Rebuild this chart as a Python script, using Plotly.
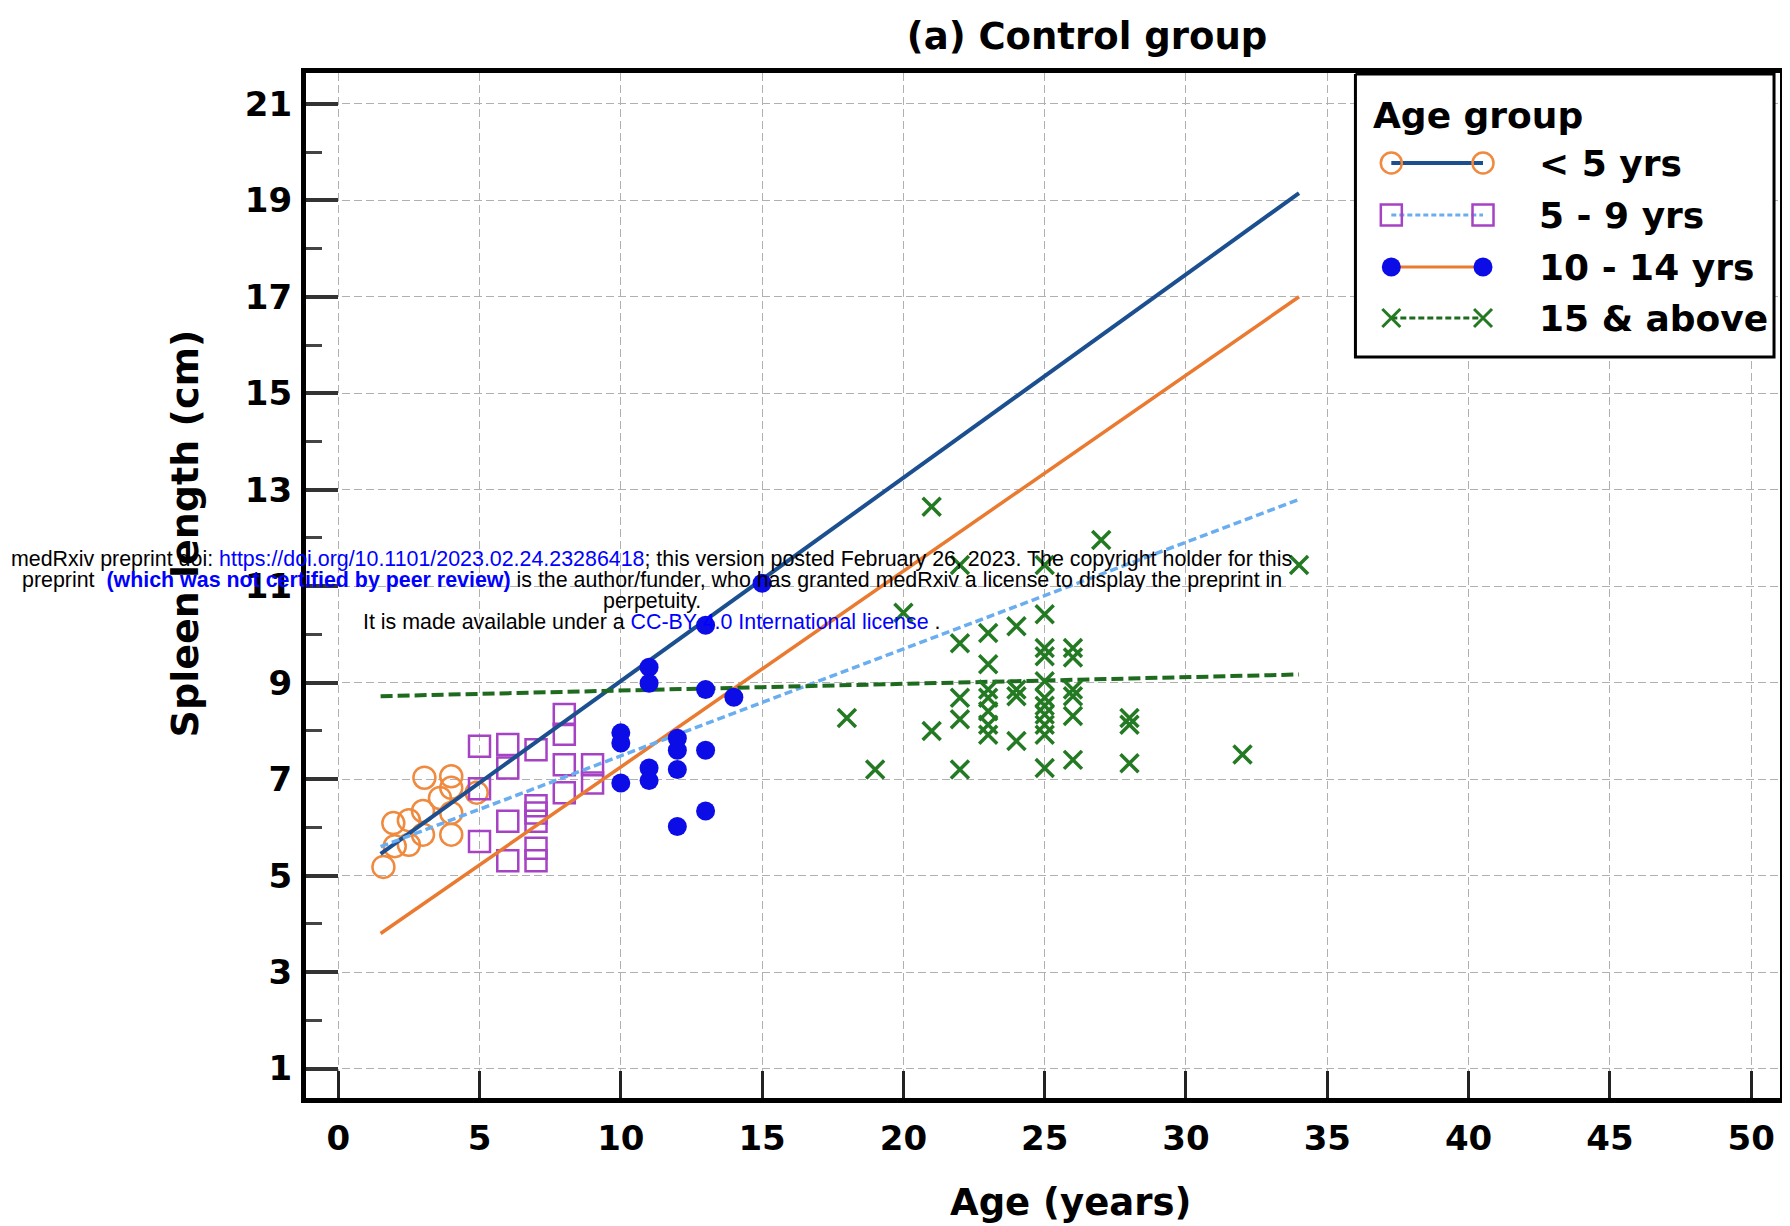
import plotly.graph_objects as go

# ---------------- data ----------------
lt5_age = [1.6, 2.0, 1.95, 2.5, 2.5, 3.0, 3.0, 3.05, 3.6, 4.0, 4.0, 4.0, 4.0, 4.9]
lt5_len = [5.18, 5.61, 6.09, 6.15, 5.64, 5.85, 6.34, 7.03, 6.61, 7.06, 6.82, 6.3, 5.85, 6.72]

g5_9_age = [5, 5, 5, 6, 6, 6, 6, 7, 7, 7, 7, 7, 7, 8, 8, 8, 8, 9, 9]
g5_9_len = [7.68, 6.8, 5.71, 7.72, 7.23, 6.13, 5.31, 7.61, 6.45, 6.3, 6.13, 5.57, 5.31,
            8.34, 7.93, 7.3, 6.72, 7.3, 6.92]

g10_14_age = [10, 10, 10, 11, 11, 11, 11, 12, 12, 12, 12, 13, 13, 13, 13, 14, 15]
g10_14_len = [7.96, 7.75, 6.92, 9.32, 8.99, 7.23, 6.97, 7.85, 7.6, 7.2, 6.02,
              10.19, 8.86, 7.6, 6.34, 8.7, 11.06]

g15_age = [18, 19, 20, 21, 21, 22, 22, 22, 22, 22, 23, 23, 23, 23, 23, 23, 23,
           24, 24, 24, 24, 25, 25, 25, 25, 25, 25, 25, 25, 25, 25, 25,
           26, 26, 26, 26, 26, 26, 27, 28, 28, 28, 32, 34]
g15_len = [8.27, 7.2, 10.45, 12.65, 8.0, 11.44, 9.82, 8.69, 8.24, 7.2, 10.03, 9.38, 8.86,
           8.69, 8.41, 8.13, 7.92, 10.17, 8.86, 8.72, 7.79, 11.44, 10.42, 9.72, 9.55,
           9.03, 8.69, 8.52, 8.34, 8.13, 7.92, 7.23, 9.72, 9.52, 8.86, 8.72, 8.31, 7.4,
           11.96, 8.27, 8.13, 7.33, 7.51, 11.44]

# fitted regression lines (end points)
fit_age = [1.5, 34.0]
fit_lt5 = [5.45, 19.15]
fit_5_9 = [5.6, 12.8]
fit_10_14 = [3.8, 17.0]
fit_15 = [8.72, 9.17]

group_names = ["< 5 yrs", "5 - 9 yrs", "10 - 14 yrs", "15 & above"]
x_ticks = list(range(0, 51, 5))
y_ticks = list(range(1, 22, 2))

# ---------------- styles ----------------
C_ORANGE = "#ef8a3e"
C_NAVY = "#1b4f8f"
C_PURPLE = "#a642c4"
C_LBLUE = "#6aaef0"
C_BLUE = "#0c0ce6"
C_ORLINE = "#ea7a30"
C_GREEN = "#237a23"
C_DGREEN = "#1e6a1e"
BOLD = "DejaVu Sans"
REG = "Liberation Sans, Arial, sans-serif"

# page body has an 8px margin: figure is sized/offset to compensate
OFF = 8
FIG_W, FIG_H = 1790 - OFF, 1226 - OFF
PLOT_L, PLOT_R, PLOT_T, PLOT_B = 306, 1785, 73, 1098   # plot area in window pixels


def px_to_paper(X, Y):
    return (X - PLOT_L) / (PLOT_R - PLOT_L), (PLOT_B - Y) / (PLOT_B - PLOT_T)


fig = go.Figure()

# data points
fig.add_trace(go.Scatter(x=lt5_age, y=lt5_len, mode="markers", name=group_names[0],
                         marker=dict(symbol="circle-open", size=22, color=C_ORANGE,
                                     line=dict(width=2.5, color=C_ORANGE))))
fig.add_trace(go.Scatter(x=g5_9_age, y=g5_9_len, mode="markers", name=group_names[1],
                         marker=dict(symbol="square-open", size=21, color=C_PURPLE,
                                     line=dict(width=2.5, color=C_PURPLE))))
# regression lines
fig.add_trace(go.Scatter(x=fit_age, y=fit_lt5, mode="lines", line=dict(color=C_NAVY, width=4)))
fig.add_trace(go.Scatter(x=fit_age, y=fit_10_14, mode="lines", line=dict(color=C_ORLINE, width=3.5)))
fig.add_trace(go.Scatter(x=fit_age, y=fit_5_9, mode="lines",
                         line=dict(color=C_LBLUE, width=3.5, dash="8px,4px")))
fig.add_trace(go.Scatter(x=fit_age, y=fit_15, mode="lines",
                         line=dict(color=C_DGREEN, width=4, dash="12px,5px")))
fig.add_trace(go.Scatter(x=g10_14_age, y=g10_14_len, mode="markers", name=group_names[2],
                         marker=dict(symbol="circle", size=19, color=C_BLUE)))
fig.add_trace(go.Scatter(x=g15_age, y=g15_len, mode="markers", name=group_names[3],
                         marker=dict(symbol="x-thin", size=18, color=C_GREEN,
                                     line=dict(width=3.5, color=C_GREEN))))

# ---------------- custom legend on a pixel-based overlay axis ----------------
leg_box_x = [1359, 1779, 1779, 1359, 1359]
leg_box_y = [74, 74, 357, 357, 74]
leg_sym_x = [1395, 1487]
leg_rows_y = [163, 215, 267, 318]
leg_text_x = 1541

fig.add_trace(go.Scatter(x=leg_box_x, y=leg_box_y, xaxis="x2", yaxis="y2", mode="lines",
                         fill="toself", fillcolor="white", line=dict(color="black", width=3),
                         hoverinfo="skip"))
leg_styles = [
    (dict(color=C_NAVY, width=4), dict(symbol="circle-open", size=21, color=C_ORANGE, line=dict(width=2.5, color=C_ORANGE))),
    (dict(color=C_LBLUE, width=3, dash="5px,3px"), dict(symbol="square-open", size=21, color=C_PURPLE, line=dict(width=2.5, color=C_PURPLE))),
    (dict(color=C_ORLINE, width=3), dict(symbol="circle", size=19, color=C_BLUE)),
    (dict(color=C_DGREEN, width=3, dash="6px,3px"), dict(symbol="x-thin", size=18, color=C_GREEN, line=dict(width=3, color=C_GREEN))),
]
for ry, (ln, mk) in zip(leg_rows_y, leg_styles):
    fig.add_trace(go.Scatter(x=leg_sym_x, y=[ry, ry], xaxis="x2", yaxis="y2", mode="lines",
                             line=ln, hoverinfo="skip"))
    fig.add_trace(go.Scatter(x=leg_sym_x, y=[ry, ry], xaxis="x2", yaxis="y2", mode="markers",
                             marker=mk, hoverinfo="skip"))

annotations = [
    dict(x=1375, y=115, xref="x2", yref="y2", text="Age group", showarrow=False,
         xanchor="left", yanchor="middle", font=dict(family=BOLD, size=36, color="black", weight="bold")),
]
for ry, name in zip(leg_rows_y, group_names):
    annotations.append(dict(x=leg_text_x, y=ry, xref="x2", yref="y2", text=name, showarrow=False,
                            xanchor="left", yanchor="middle",
                            font=dict(family=BOLD, size=36, color="black", weight="bold")))

# axis titles (paper-referenced so they can sit outside the plot area)
ax_x, ax_y = px_to_paper(1073, 1202)
annotations.append(dict(x=ax_x, y=ax_y, xref="paper", yref="paper", text="Age (years)", showarrow=False,
                        xanchor="center", yanchor="middle",
                        font=dict(family=BOLD, size=37, color="black", weight="bold")))
ay_x, ay_y = px_to_paper(185, 533)
annotations.append(dict(x=ay_x, y=ay_y, xref="paper", yref="paper", text="Spleen length (cm)", showarrow=False,
                        xanchor="center", yanchor="middle", textangle=-90,
                        font=dict(family=BOLD, size=38, color="black", weight="bold")))

# medRxiv watermark
wm_lines = [
    "medRxiv preprint doi: <span style='color:#0000ff'>https://doi.org/10.1101/2023.02.24.23286418</span>; this version posted February 26, 2023. The copyright holder for this",
    "preprint  <b><span style='color:#0000ff'>(which was not certified by peer review)</span></b> is the author/funder, who has granted medRxiv a license to display the preprint in",
    "perpetuity.",
    "It is made available under a <span style='color:#0000ff'>CC-BY 4.0 International license</span> .",
]
wm_y = [559, 580, 601, 622]
for t, yy in zip(wm_lines, wm_y):
    wx, wy = px_to_paper(653, yy)
    annotations.append(dict(x=wx, y=wy, xref="paper", yref="paper", text=t, showarrow=False,
                            xanchor="center", yanchor="middle",
                            font=dict(family=REG, size=21.4, color="black")))

tickfont = dict(family=BOLD, size=34, color="black", weight="bold")
fig.update_layout(
    width=FIG_W, height=FIG_H,
    margin=dict(l=PLOT_L - OFF, r=FIG_W - (PLOT_R - OFF), t=PLOT_T - OFF, b=FIG_H - (PLOT_B - OFF)),
    paper_bgcolor="white", plot_bgcolor="rgba(0,0,0,0)",
    showlegend=False,
    title=dict(text="(a) Control group", x=(1087 - OFF) / FIG_W, xanchor="center",
               y=1 - (36.5 - OFF) / FIG_H, yanchor="middle", xref="container", yref="container",
               font=dict(family=BOLD, size=37, color="black", weight="bold")),
    xaxis=dict(range=[-1.14, 51.02], tickmode="array", tickvals=x_ticks,
               ticktext=[str(v) for v in x_ticks],
               ticks="inside", ticklen=27, tickwidth=3, tickcolor="#222",
               showline=True, linewidth=5, linecolor="black", mirror=True,
               showgrid=True, gridcolor="#b0b0b0", gridwidth=1.3, griddash="8px,4px",
               zeroline=False, tickfont=tickfont, ticklabelstandoff=6),
    yaxis=dict(range=[0.39, 21.64], tickmode="array", tickvals=y_ticks,
               ticktext=[str(v) for v in y_ticks],
               ticks="inside", ticklen=32, tickwidth=3.5, tickcolor="#333",
               minor=dict(ticks="inside", ticklen=16, tickwidth=3, tickcolor="#444",
                          tick0=0, dtick=1, showgrid=False),
               showline=True, linewidth=5, linecolor="black", mirror=True,
               showgrid=True, gridcolor="#b0b0b0", gridwidth=1.3, griddash="8px,4px",
               zeroline=False, tickfont=tickfont, ticklabelstandoff=2),
    xaxis2=dict(domain=[0, 1], range=[PLOT_L, PLOT_R], anchor="y2", visible=False, fixedrange=True),
    yaxis2=dict(domain=[0, 1], range=[PLOT_B, PLOT_T], anchor="x2", visible=False, fixedrange=True),
    annotations=annotations,
)

fig.write_html("out.html")
